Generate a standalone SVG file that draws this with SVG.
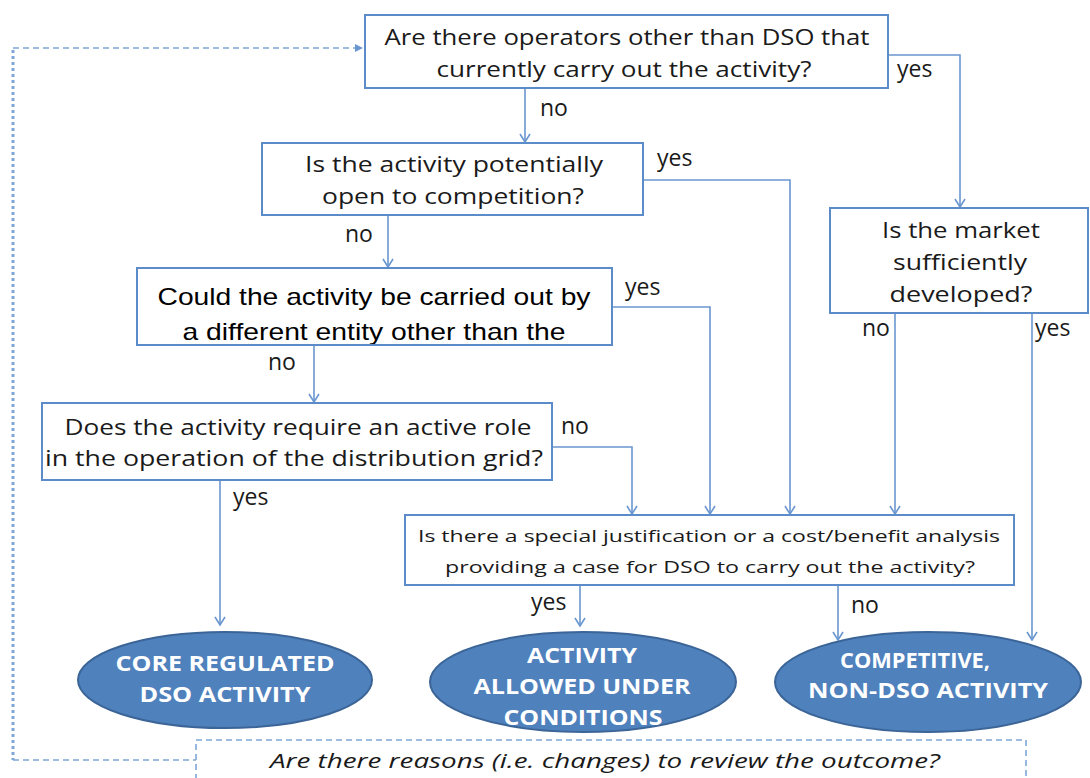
<svg xmlns="http://www.w3.org/2000/svg" width="1090" height="778" viewBox="0 0 1090 778">
<style>
.box{fill:#fff;stroke:#5b8bc9;stroke-width:2}
.t{font-family:"Open Sans",Lato,sans-serif;font-size:22px;fill:#1a1a1a;text-anchor:middle}
.tj{font-family:"Open Sans",Lato,sans-serif;font-size:17px;fill:#1a1a1a;text-anchor:middle}
.ta{font-family:"Liberation Sans",Arial,sans-serif;font-size:24px;fill:#000;text-anchor:middle}
.lb{font-family:"Open Sans",Lato,sans-serif;font-size:23px;fill:#1a1a1a}
.ell{fill:#4f81bd;stroke:#3b6497;stroke-width:2}
.et{font-family:"Open Sans",Lato,sans-serif;font-size:22px;font-weight:bold;fill:#fff;text-anchor:middle}
.c{fill:none;stroke:#6a96cf;stroke-width:1.6}
.d{fill:none;stroke:#7fa6d6;stroke-width:1.6;stroke-dasharray:6,4}
.dv{fill:none;stroke:#7fa6d6;stroke-width:3;stroke-dasharray:3,3}
.it{font-family:"Open Sans",Lato,sans-serif;font-style:italic;font-size:20px;fill:#1a1a1a;text-anchor:middle}
</style>
<defs>
<marker id="ah" markerWidth="12" markerHeight="12" refX="10" refY="6" orient="auto" markerUnits="userSpaceOnUse">
<path d="M2,1 L10,6 L2,11" fill="none" stroke="#6a96cf" stroke-width="1.6"/>
</marker>
<marker id="ahd" markerWidth="12" markerHeight="12" refX="10" refY="6" orient="auto" markerUnits="userSpaceOnUse">
<path d="M2,2 L10,6 L2,10 Z" fill="#6a96cf"/>
</marker>
<clipPath id="c3"><rect x="137" y="268" width="475" height="76"/></clipPath>
</defs>
<rect width="1090" height="778" fill="#fff"/>

<g id="connectors">
<path class="dv" d="M13,50 V760"/>
<path class="d" d="M13,48 H363" marker-end="url(#ahd)"/>
<path class="d" d="M13,760 H196"/>
<path class="c" d="M525,88 V142" marker-end="url(#ah)"/>
<path class="c" d="M888,55 H960 V207" marker-end="url(#ah)"/>
<path class="c" d="M643,180 H790 V514" marker-end="url(#ah)"/>
<path class="c" d="M388,215 V267" marker-end="url(#ah)"/>
<path class="c" d="M612,307 H710 V514" marker-end="url(#ah)"/>
<path class="c" d="M314,345 V402" marker-end="url(#ah)"/>
<path class="c" d="M552,447 H632 V514" marker-end="url(#ah)"/>
<path class="c" d="M220,480 V625" marker-end="url(#ah)"/>
<path class="c" d="M895,313 V514" marker-end="url(#ah)"/>
<path class="c" d="M1032,313 V640" marker-end="url(#ah)"/>
<path class="c" d="M580,585 V626" marker-end="url(#ah)"/>
<path class="c" d="M838,585 V640" marker-end="url(#ah)"/>
<text class="lb" x="540" y="116">no</text>
<text class="lb" x="897" y="77">yes</text>
<text class="lb" x="657" y="166">yes</text>
<text class="lb" x="345" y="242">no</text>
<text class="lb" x="625" y="295">yes</text>
<text class="lb" x="862" y="336">no</text>
<text class="lb" x="1035" y="336">yes</text>
<text class="lb" x="268" y="370">no</text>
<text class="lb" x="561" y="434">no</text>
<text class="lb" x="233" y="505">yes</text>
<text class="lb" x="531" y="610">yes</text>
<text class="lb" x="851" y="613">no</text>
</g>

<g id="q1">
<rect class="box" x="365" y="15" width="523" height="73"/>
<text class="t" x="627" y="45" textLength="485" lengthAdjust="spacingAndGlyphs">Are there operators other than DSO that</text>
<text class="t" x="624" y="77" textLength="375" lengthAdjust="spacingAndGlyphs">currently carry out the activity?</text>
</g>

<g id="q2">
<rect class="box" x="262" y="143" width="381" height="72"/>
<text class="t" x="454" y="172" textLength="298" lengthAdjust="spacingAndGlyphs">Is the activity potentially</text>
<text class="t" x="453" y="204" textLength="262" lengthAdjust="spacingAndGlyphs">open to competition?</text>
</g>

<g id="q-market">
<rect class="box" x="830" y="208" width="258" height="105"/>
<text class="t" x="961" y="238" textLength="158" lengthAdjust="spacingAndGlyphs">Is the market</text>
<text class="t" x="960" y="270" textLength="134" lengthAdjust="spacingAndGlyphs">sufficiently</text>
<text class="t" x="961" y="302" textLength="143" lengthAdjust="spacingAndGlyphs">developed?</text>
</g>

<g id="q3">
<rect class="box" x="137" y="268" width="475" height="77"/>
<g clip-path="url(#c3)">
<text class="ta" x="374" y="305" textLength="433" lengthAdjust="spacingAndGlyphs">Could the activity be carried out by</text>
<text class="ta" x="374" y="340" textLength="383" lengthAdjust="spacingAndGlyphs">a different entity other than the</text>
</g>
</g>

<g id="q4">
<rect class="box" x="42" y="403" width="510" height="77"/>
<text class="t" x="298" y="435" textLength="467" lengthAdjust="spacingAndGlyphs">Does the activity  require an active role</text>
<text class="t" x="294" y="466" textLength="498" lengthAdjust="spacingAndGlyphs">in the operation of the distribution grid?</text>
</g>

<g id="q-justification">
<rect class="box" x="405" y="515" width="609" height="70"/>
<text class="tj" x="709" y="542" textLength="582" lengthAdjust="spacingAndGlyphs">Is there a special justification or a cost/benefit analysis</text>
<text class="tj" x="710" y="573" textLength="530" lengthAdjust="spacingAndGlyphs">providing a case for DSO to carry out the activity?</text>
</g>

<g id="out-core">
<ellipse class="ell" cx="225" cy="680" rx="147" ry="48"/>
<text class="et" x="225" y="671" textLength="219" lengthAdjust="spacingAndGlyphs">CORE REGULATED</text>
<text class="et" x="225" y="702" textLength="171" lengthAdjust="spacingAndGlyphs">DSO ACTIVITY</text>
</g>

<g id="out-conditions">
<ellipse class="ell" cx="583" cy="682" rx="153" ry="50"/>
<text class="et" x="582" y="663" textLength="110" lengthAdjust="spacingAndGlyphs">ACTIVITY</text>
<text class="et" x="582" y="694" textLength="217" lengthAdjust="spacingAndGlyphs">ALLOWED UNDER</text>
<text class="et" x="583" y="725" textLength="159" lengthAdjust="spacingAndGlyphs">CONDITIONS</text>
</g>

<g id="out-competitive">
<ellipse class="ell" cx="928" cy="682" rx="153" ry="50"/>
<text class="et" x="915" y="668" textLength="150" lengthAdjust="spacingAndGlyphs">COMPETITIVE,</text>
<text class="et" x="928" y="698" textLength="240" lengthAdjust="spacingAndGlyphs">NON-DSO ACTIVITY</text>
</g>

<g id="review">
<rect class="d" x="196" y="740" width="830" height="60"/>
<text class="it" x="605" y="768" textLength="670" lengthAdjust="spacingAndGlyphs">Are there reasons (i.e. changes) to review the outcome?</text>
</g>
</svg>
